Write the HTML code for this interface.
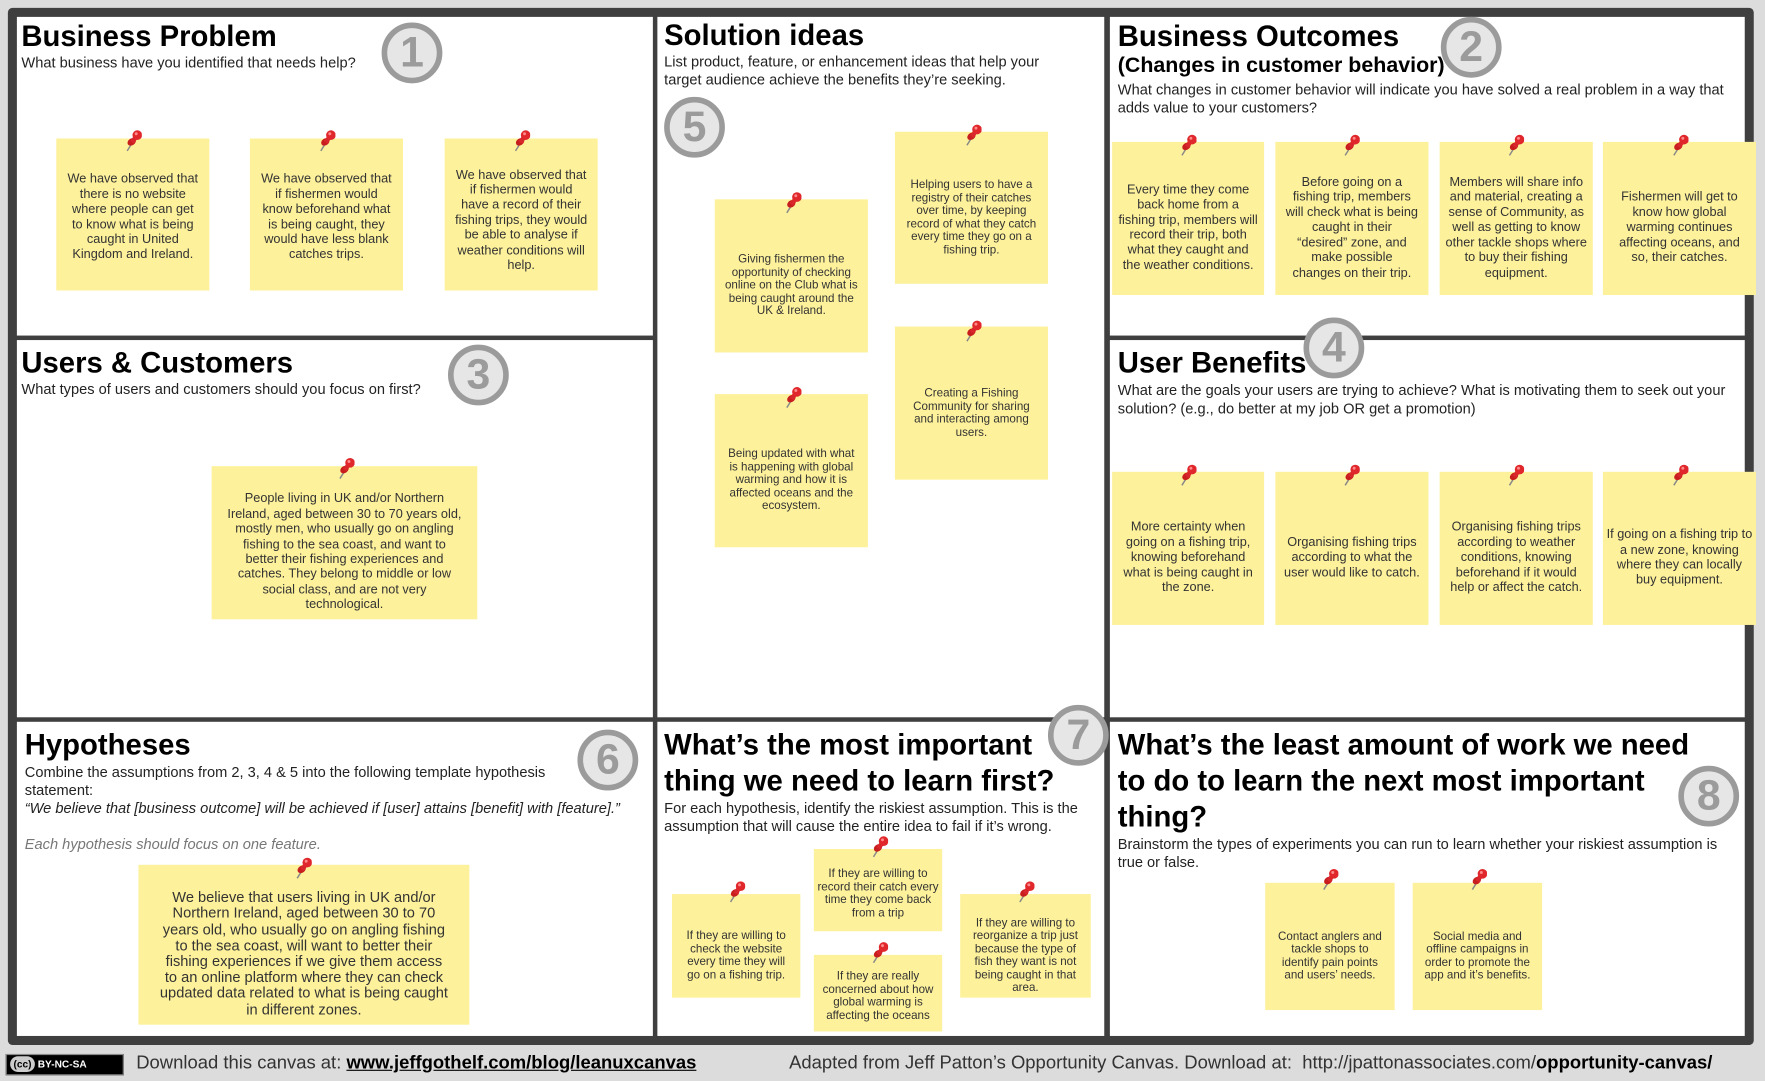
<!DOCTYPE html>
<html><head><meta charset="utf-8"><style>
html,body{margin:0;padding:0;background:#dcdcdc;overflow:hidden}
#w{position:absolute;left:0;top:0;width:1568px;height:960px;transform:scale(1.12564,1.12604);transform-origin:0 0;font-family:"Liberation Sans",Arial,sans-serif}
.fr{position:absolute;left:7px;top:7px;width:1551px;height:921px;background:#3f3f3f;border-radius:4px}
.p{position:absolute;background:#fff}
.t{position:absolute;font-weight:bold;font-size:26px;color:#000;line-height:32px;white-space:nowrap}
.s{position:absolute;font-size:13px;color:#222;line-height:16px}
.n{position:absolute;background:#fdf19b;display:flex;align-items:center;justify-content:center;text-align:center;font-size:11.3px;line-height:13.4px;color:#333;box-sizing:border-box;padding:18px 9px 0}
.c{position:absolute;width:44px;height:44px;border:5px solid #9b9b9b;border-radius:50%;background:#e6e6e6;color:#9b9b9b;font-weight:bold;font-size:38px;line-height:44px;text-align:center}
.pin{position:absolute;width:16px;height:20px}
</style></head><body><div id="w">
<div class="fr"></div>
<div class="p" style="left:15px;top:15px;width:565px;height:283px"></div>
<div class="p" style="left:584px;top:15px;width:397px;height:622px"></div>
<div class="p" style="left:986px;top:15px;width:564px;height:283px"></div>
<div class="p" style="left:15px;top:302px;width:565px;height:335px"></div>
<div class="p" style="left:986px;top:302px;width:564px;height:335px"></div>
<div class="p" style="left:15px;top:641px;width:565px;height:279px"></div>
<div class="p" style="left:584px;top:641px;width:397px;height:279px"></div>
<div class="p" style="left:986px;top:641px;width:564px;height:279px"></div>

<div class="t" style="left:19px;top:16px">Business Problem</div>
<div class="s" style="left:19px;top:48px">What business have you identified that needs help?</div>
<div class="c" style="left:339px;top:20px">1</div>

<div class="t" style="left:590px;top:15px">Solution ideas</div>
<div class="s" style="left:590px;top:47px;width:360px">List product, feature, or enhancement ideas that help your target audience achieve the benefits they’re seeking.</div>
<div class="c" style="left:590px;top:86px">5</div>

<div class="t" style="left:993px;top:16px">Business Outcomes</div>
<div class="t" style="left:993px;top:46px;font-size:19px;line-height:26px">(Changes in customer behavior)</div>
<div class="s" style="left:993px;top:72px;width:540px">What changes in customer behavior will indicate you have solved a real problem in a way that adds value to your customers?</div>
<div class="c" style="left:1280px;top:15px">2</div>

<div class="t" style="left:19px;top:306px">Users &amp; Customers</div>
<div class="s" style="left:19px;top:338px">What types of users and customers should you focus on first?</div>
<div class="c" style="left:398px;top:306px">3</div>

<div class="t" style="left:993px;top:306px">User Benefits</div>
<div class="c" style="left:1158px;top:282px">4</div>
<div class="s" style="left:993px;top:339px;width:540px">What are the goals your users are trying to achieve? What is motivating them to seek out your solution? (e.g., do better at my job OR get a promotion)</div>

<div class="t" style="left:22px;top:645px">Hypotheses</div>
<div class="s" style="left:22px;top:678px;width:500px">Combine the assumptions from 2, 3, 4 &amp; 5 into the following template hypothesis statement:</div>
<div class="s" style="left:22px;top:710px;font-style:italic;white-space:nowrap">“We believe that [business outcome] will be achieved if [user] attains [benefit] with [feature].”</div>
<div class="s" style="left:22px;top:742px;font-style:italic;color:#777">Each hypothesis should focus on one feature.</div>
<div class="c" style="left:513px;top:648px">6</div>

<div class="t" style="left:590px;top:645px">What’s the most important<br>thing we need to learn first?</div>
<div class="s" style="left:590px;top:710px;width:390px">For each hypothesis, identify the riskiest assumption. This is the assumption that will cause the entire idea to fail if it’s wrong.</div>
<div class="c" style="left:931px;top:626px">7</div>

<div class="t" style="left:993px;top:645px">What’s the least amount of work we need<br>to do to learn the next most important<br>thing?</div>
<div class="s" style="left:993px;top:742px;width:545px">Brainstorm the types of experiments you can run to learn whether your riskiest assumption is true or false.</div>
<div class="c" style="left:1491px;top:680px">8</div>

<!-- notes -->
<div class="n" style="left:50px;top:123px;width:136px;height:135px;padding-top:6px">We have observed that there is no website where people can get to know what is being caught in United Kingdom and Ireland.</div>
<div class="n" style="left:222px;top:123px;width:136px;height:135px;padding-top:6px">We have observed that if fishermen would know beforehand what is being caught, they would have less blank catches trips.</div>
<div class="n" style="left:395px;top:123px;width:136px;height:135px;padding-top:12px">We have observed that if fishermen would have a record of their fishing trips, they would be able to analyse if weather conditions will help.</div>

<div class="n" style="left:635px;top:177px;width:136px;height:136px;font-size:10.3px;line-height:11.5px">Giving fishermen the opportunity of checking online on the Club what is being caught around the UK &amp; Ireland.</div>
<div class="n" style="left:795px;top:117px;width:136px;height:135px;font-size:10.3px;line-height:11.5px">Helping users to have a registry of their catches over time, by keeping record of what they catch every time they go on a fishing trip.</div>
<div class="n" style="left:635px;top:350px;width:136px;height:136px;font-size:10.3px;line-height:11.5px">Being updated with what is happening with global warming and how it is affected oceans and the ecosystem.</div>
<div class="n" style="left:795px;top:290px;width:136px;height:136px;font-size:10.3px;line-height:11.5px">Creating a Fishing Community for sharing and interacting among users.</div>

<div class="n" style="left:988px;top:126px;width:135px;height:136px;padding:18px 5px 0">Every time they come back home from a fishing trip, members will record their trip, both what they caught and the weather conditions.</div>
<div class="n" style="left:1133px;top:126px;width:136px;height:136px">Before going on a fishing trip, members will check what is being caught in their “desired” zone, and make possible changes on their trip.</div>
<div class="n" style="left:1279px;top:126px;width:136px;height:136px;padding:18px 5px 0">Members will share info and material, creating a sense of Community, as well as getting to know other tackle shops where to buy their fishing equipment.</div>
<div class="n" style="left:1424px;top:126px;width:136px;height:136px">Fishermen will get to know how global warming continues affecting oceans, and so, their catches.</div>

<div class="n" style="left:188px;top:414px;width:236px;height:136px;padding:18px 14px 0">People living in UK and/or Northern Ireland, aged between 30 to 70 years old, mostly men, who usually go on angling fishing to the sea coast, and want to better their fishing experiences and catches. They belong to middle or low social class, and are not very technological.</div>

<div class="n" style="left:988px;top:419px;width:135px;height:136px;padding:18px 4px 0">More certainty when going on a fishing trip, knowing beforehand what is being caught in the zone.</div>
<div class="n" style="left:1133px;top:419px;width:136px;height:136px;padding:18px 3px 0">Organising fishing trips according to what the user would like to catch.</div>
<div class="n" style="left:1279px;top:419px;width:136px;height:136px;padding:18px 4px 0">Organising fishing trips according to weather conditions, knowing beforehand if it would help or affect the catch.</div>
<div class="n" style="left:1424px;top:419px;width:136px;height:136px;padding:18px 3px 0">If going on a fishing trip to a new zone, knowing where they can locally buy equipment.</div>

<div class="n" style="left:123px;top:768px;width:294px;height:142px;font-size:13px;line-height:14.2px;padding:16px 18px 0">We believe that users living in UK and/or Northern Ireland, aged between 30 to 70 years old, who usually go on angling fishing to the sea coast, will want to better their fishing experiences if we give them access to an online platform where they can check updated data related to what is being caught in different zones.</div>

<div class="n" style="left:597px;top:794px;width:114px;height:92px;font-size:10.3px;line-height:11.5px">If they are willing to check the website every time they will go on a fishing trip.</div>
<div class="n" style="left:723px;top:754px;width:114px;height:73px;font-size:10.3px;line-height:11.5px;padding:17px 3px 0;align-items:flex-start">If they are willing to record their catch every time they come back from a trip</div>
<div class="n" style="left:723px;top:848px;width:114px;height:68px;font-size:10.3px;line-height:11.5px;padding:14px 2px 0;align-items:flex-start">If they are really concerned about how global warming is affecting the oceans</div>
<div class="n" style="left:853px;top:794px;width:116px;height:92px;font-size:10.3px;line-height:11.5px">If they are willing to reorganize a trip just because the type of fish they want is not being caught in that area.</div>

<div class="n" style="left:1124px;top:784px;width:115px;height:113px;font-size:10.3px;line-height:11.5px">Contact anglers and tackle shops to identify pain points and users’ needs.</div>
<div class="n" style="left:1255px;top:784px;width:115px;height:113px;font-size:10.3px;line-height:11.5px">Social media and offline campaigns in order to promote the app and it’s benefits.</div>

<!-- pins -->
<svg width="0" height="0" style="position:absolute"><defs><g id="pn"><line x1="3" y1="19" x2="8" y2="11" stroke="#888" stroke-width="1.3"/><ellipse cx="7" cy="11" rx="4" ry="3" fill="#c81e1e" transform="rotate(-35 7 11)"/><rect x="7" y="6" width="4" height="6" fill="#d8262a" transform="rotate(35 9 9)"/><circle cx="12" cy="5" r="4.3" fill="#e0282c"/><circle cx="11" cy="3.8" r="1.3" fill="#ff8a8a"/></g></defs></svg>
<svg class="pin" style="left:110px;top:115px"><use href="#pn"/></svg>
<svg class="pin" style="left:282px;top:115px"><use href="#pn"/></svg>
<svg class="pin" style="left:455px;top:115px"><use href="#pn"/></svg>
<svg class="pin" style="left:696px;top:170px"><use href="#pn"/></svg>
<svg class="pin" style="left:856px;top:110px"><use href="#pn"/></svg>
<svg class="pin" style="left:696px;top:343px"><use href="#pn"/></svg>
<svg class="pin" style="left:856px;top:284px"><use href="#pn"/></svg>
<svg class="pin" style="left:1047px;top:119px"><use href="#pn"/></svg>
<svg class="pin" style="left:1192px;top:119px"><use href="#pn"/></svg>
<svg class="pin" style="left:1338px;top:119px"><use href="#pn"/></svg>
<svg class="pin" style="left:1484px;top:119px"><use href="#pn"/></svg>
<svg class="pin" style="left:299px;top:406px"><use href="#pn"/></svg>
<svg class="pin" style="left:1047px;top:412px"><use href="#pn"/></svg>
<svg class="pin" style="left:1192px;top:412px"><use href="#pn"/></svg>
<svg class="pin" style="left:1338px;top:412px"><use href="#pn"/></svg>
<svg class="pin" style="left:1484px;top:412px"><use href="#pn"/></svg>
<svg class="pin" style="left:261px;top:761px"><use href="#pn"/></svg>
<svg class="pin" style="left:646px;top:782px"><use href="#pn"/></svg>
<svg class="pin" style="left:773px;top:742px"><use href="#pn"/></svg>
<svg class="pin" style="left:773px;top:836px"><use href="#pn"/></svg>
<svg class="pin" style="left:903px;top:782px"><use href="#pn"/></svg>
<svg class="pin" style="left:1173px;top:771px"><use href="#pn"/></svg>
<svg class="pin" style="left:1305px;top:771px"><use href="#pn"/></svg>

<!-- footer -->
<div style="position:absolute;left:5px;top:936px;width:105px;height:19px;background:#000;border:1px solid #888;box-sizing:border-box;color:#fff;font-size:9px;line-height:17px;font-weight:bold"><span style="display:inline-block;background:#ccc;color:#000;padding:0 3px;border-radius:7px;margin-left:3px;line-height:14px">(cc)</span> BY-NC-SA</div>
<div style="position:absolute;left:121px;top:935px;font-size:16.4px;color:#333;white-space:nowrap">Download this canvas at: <b style="text-decoration:underline;color:#000">www.jeffgothelf.com/blog/leanuxcanvas</b></div>
<div style="position:absolute;left:701px;top:935px;font-size:16.4px;color:#333;white-space:nowrap">Adapted from Jeff Patton’s Opportunity Canvas. Download at:&nbsp; http://jpattonassociates.com/<b style="color:#000">opportunity-canvas/</b></div>
</div></body></html>
